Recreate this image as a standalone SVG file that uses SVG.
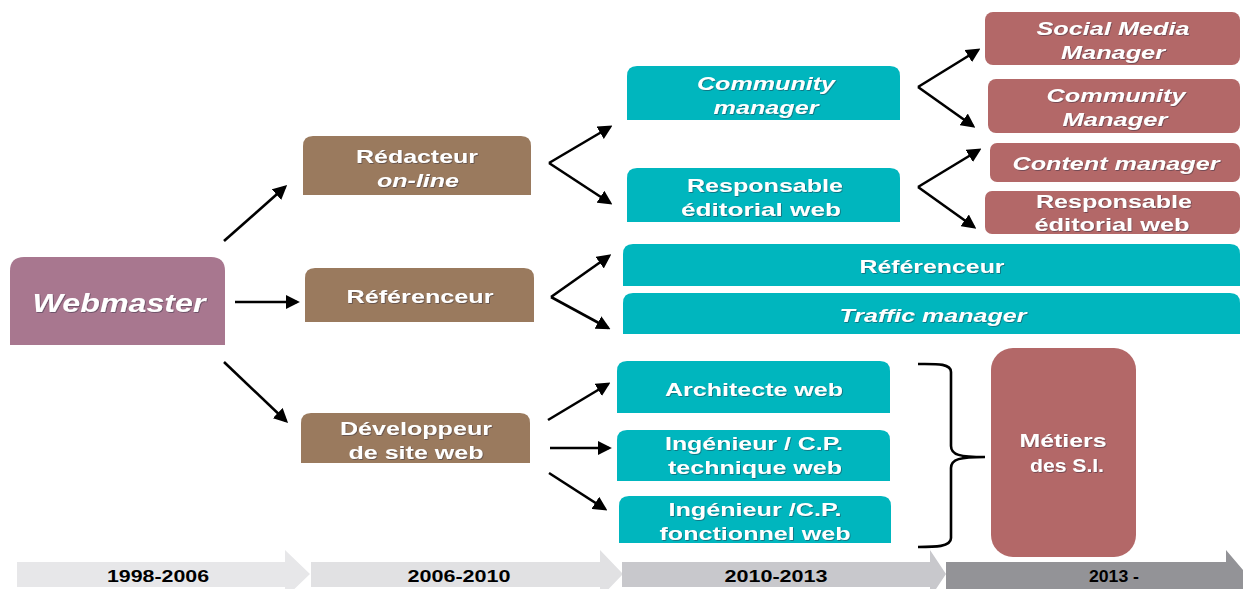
<svg xmlns="http://www.w3.org/2000/svg" width="1243" height="589" viewBox="0 0 1243 589">
<defs>
<style>
text{font-family:"Liberation Sans",Arial,sans-serif;font-weight:bold;fill:#fff;text-anchor:middle;font-size:19px}
.w{filter:url(#sh)}
.it{font-style:italic}
.pur{fill:#A8778F}
.brn{fill:#9A7A5E}
.tea{fill:#00B6BE}
.red{fill:#B36868}
.tl{fill:#000;font-size:16px}
.ar{stroke:#000;stroke-width:2.6;fill:none;marker-end:url(#ah)}
</style>
<filter id="sh" x="-5%" y="-20%" width="110%" height="140%">
<feDropShadow dx="0.8" dy="0.8" stdDeviation="0.4" flood-color="#2a2a3a" flood-opacity="0.55"/>
</filter>
<marker id="ah" viewBox="0 0 10 10" refX="8" refY="5" markerWidth="5.5" markerHeight="5.5" orient="auto" markerUnits="strokeWidth">
<path d="M0,0 L10,5 L0,10 Z" fill="#000"/>
</marker>
</defs>
<rect width="1243" height="589" fill="#fff"/>
<g id="timeline">
<path d="M17,562 H285 V550 L310,574 L285,598 V587 H17 Z" fill="#E7E7E9"/>
<path d="M311,562 H600 V550 L623,574 L600,598 V587 H311 Z" fill="#E1E1E3"/>
<path d="M622,562 H930 V550 L946,574 L930,598 V587 H622 Z" fill="#C8C8CC"/>
<path d="M946,562 H1226 V550 L1243,570 L1243,589 H946 Z" fill="#939397"/>
<text class="tl" x="158" y="582" textLength="102" lengthAdjust="spacingAndGlyphs">1998-2006</text>
<text class="tl" x="459" y="582" textLength="103" lengthAdjust="spacingAndGlyphs">2006-2010</text>
<text class="tl" x="776" y="582" textLength="103" lengthAdjust="spacingAndGlyphs">2010-2013</text>
<text class="tl" x="1114" y="582" textLength="50" lengthAdjust="spacingAndGlyphs">2013 -</text>
</g>
<g id="connectors">
<line class="ar" x1="224" y1="241" x2="285" y2="187"/>
<line class="ar" x1="235" y1="302" x2="297" y2="302"/>
<line class="ar" x1="224" y1="362" x2="286" y2="421"/>
<line class="ar" x1="549" y1="163" x2="610" y2="127"/>
<line class="ar" x1="549" y1="163" x2="610" y2="203"/>
<line class="ar" x1="551" y1="297" x2="609" y2="256"/>
<line class="ar" x1="551" y1="297" x2="608" y2="328"/>
<line class="ar" x1="548" y1="420" x2="608" y2="384"/>
<line class="ar" x1="550" y1="448" x2="609" y2="448"/>
<line class="ar" x1="549" y1="473" x2="605" y2="509"/>
<line class="ar" x1="918" y1="87" x2="978" y2="50"/>
<line class="ar" x1="918" y1="87" x2="973" y2="126"/>
<line class="ar" x1="918" y1="187" x2="979" y2="150"/>
<line class="ar" x1="918" y1="187" x2="974" y2="227"/>
<path d="M918,364 C935,364 951,363 951,372 V446 C951,455 960,457 985,457 C960,457 951,459 951,468 V538 C951,547 935,547 918,547" stroke="#000" stroke-width="2.6" fill="none"/>
</g>
<g id="webmaster">
<path class="pur" d="M10,345 V271 Q10,257 24,257 H211 Q225,257 225,271 V345 Z"/>
<text class="it w" x="119" y="312" style="font-size:25px" textLength="173" lengthAdjust="spacingAndGlyphs">Webmaster</text>
</g>
<g id="redacteur">
<path class="brn" d="M303,195 V146 Q303,136 313,136 H521 Q531,136 531,146 V195 Z"/>
<text class="w" x="417" y="163" textLength="122" lengthAdjust="spacingAndGlyphs">Rédacteur</text>
<text class="it w" x="418" y="187" textLength="82" lengthAdjust="spacingAndGlyphs">on-line</text>
</g>
<g id="referenceur1">
<path class="brn" d="M305,322 V278 Q305,268 315,268 H524 Q534,268 534,278 V322 Z"/>
<text class="w" x="420" y="303" textLength="147" lengthAdjust="spacingAndGlyphs">Référenceur</text>
</g>
<g id="developpeur">
<path class="brn" d="M301,463 V423 Q301,413 311,413 H520 Q530,413 530,423 V463 Z"/>
<text class="w" x="416" y="435" textLength="152" lengthAdjust="spacingAndGlyphs">Développeur</text>
<text class="w" x="416" y="459" textLength="135" lengthAdjust="spacingAndGlyphs">de site web</text>
</g>
<g id="community1">
<path class="tea" d="M627,120 V76 Q627,66 637,66 H890 Q900,66 900,76 V120 Z"/>
<text class="it w" x="766" y="90" textLength="138" lengthAdjust="spacingAndGlyphs">Community</text>
<text class="it w" x="766" y="114" textLength="105" lengthAdjust="spacingAndGlyphs">manager</text>
</g>
<g id="responsable1">
<path class="tea" d="M627,222 V178 Q627,168 637,168 H890 Q900,168 900,178 V222 Z"/>
<text class="w" x="765" y="192" textLength="156" lengthAdjust="spacingAndGlyphs">Responsable</text>
<text class="w" x="761" y="216" textLength="160" lengthAdjust="spacingAndGlyphs">éditorial web</text>
</g>
<g id="referenceur2">
<path class="tea" d="M623,286 V254 Q623,244 633,244 H1230 Q1240,244 1240,254 V286 Z"/>
<text class="w" x="932" y="273" textLength="145" lengthAdjust="spacingAndGlyphs">Référenceur</text>
</g>
<g id="traffic">
<path class="tea" d="M623,334 V303 Q623,293 633,293 H1230 Q1240,293 1240,303 V334 Z"/>
<text class="it w" x="933" y="322" textLength="187" lengthAdjust="spacingAndGlyphs">Traffic manager</text>
</g>
<g id="architecte">
<path class="tea" d="M617,413 V371 Q617,361 627,361 H880 Q890,361 890,371 V413 Z"/>
<text class="w" x="754" y="396" textLength="178" lengthAdjust="spacingAndGlyphs">Architecte web</text>
</g>
<g id="ingtech">
<path class="tea" d="M617,481 V440 Q617,430 627,430 H880 Q890,430 890,440 V481 Z"/>
<text class="w" x="754" y="450" textLength="178" lengthAdjust="spacingAndGlyphs">Ingénieur / C.P.</text>
<text class="w" x="755" y="474" textLength="174" lengthAdjust="spacingAndGlyphs">technique web</text>
</g>
<g id="ingfonc">
<path class="tea" d="M619,543 V506 Q619,496 629,496 H881 Q891,496 891,506 V543 Z"/>
<text class="w" x="755" y="516" textLength="173" lengthAdjust="spacingAndGlyphs">Ingénieur /C.P.</text>
<text class="w" x="755" y="540" textLength="191" lengthAdjust="spacingAndGlyphs">fonctionnel web</text>
</g>
<g id="socialmedia">
<rect class="red" x="985" y="12" width="255" height="53" rx="8"/>
<text class="it w" x="1113" y="35" textLength="153" lengthAdjust="spacingAndGlyphs">Social Media</text>
<text class="it w" x="1113" y="59" textLength="104" lengthAdjust="spacingAndGlyphs">Manager</text>
</g>
<g id="community2">
<rect class="red" x="988" y="79" width="252" height="54" rx="8"/>
<text class="it w" x="1116" y="102" textLength="139" lengthAdjust="spacingAndGlyphs">Community</text>
<text class="it w" x="1115" y="126" textLength="105" lengthAdjust="spacingAndGlyphs">Manager</text>
</g>
<g id="content">
<rect class="red" x="990" y="143" width="250" height="39" rx="7"/>
<text class="it w" x="1116" y="170" textLength="207" lengthAdjust="spacingAndGlyphs">Content manager</text>
</g>
<g id="responsable2">
<rect class="red" x="985" y="191" width="255" height="43" rx="7"/>
<text class="w" x="1114" y="208" textLength="156" lengthAdjust="spacingAndGlyphs">Responsable</text>
<text class="w" x="1112" y="231" textLength="155" lengthAdjust="spacingAndGlyphs">éditorial web</text>
</g>
<g id="metiers">
<rect class="red" x="991" y="348" width="145" height="209" rx="22"/>
<text class="w" x="1063" y="447" textLength="87" lengthAdjust="spacingAndGlyphs">Métiers</text>
<text class="w" x="1067" y="472" textLength="74" lengthAdjust="spacingAndGlyphs">des S.I.</text>
</g>
</svg>
